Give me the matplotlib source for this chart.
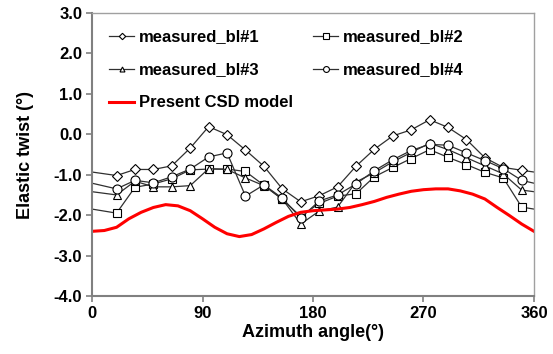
import numpy as np
import matplotlib
matplotlib.use("Agg")
import matplotlib.pyplot as plt

plt.rcParams["font.family"] = ["Liberation Sans", "DejaVu Sans"]

# Measured blade positions (deg)
angles = list(range(20, 351, 15))

bl1 = [-1.02, -0.87, -0.87, -0.78, -0.34, 0.19, -0.01, -0.39, -0.79, -1.35, -1.67, -1.52,
       -1.30, -0.79, -0.37, -0.04, 0.11, 0.36, 0.17, -0.13, -0.58, -0.82, -0.89]
bl2 = [-1.95, -1.31, -1.23, -1.10, -0.88, -0.86, -0.86, -0.92, -1.26, -1.61, -2.03, -1.71,
       -1.53, -1.47, -1.05, -0.82, -0.60, -0.38, -0.57, -0.75, -0.94, -1.08, -1.80]
bl3 = [-1.50, -1.16, -1.30, -1.30, -1.27, -0.85, -0.87, -1.08, -1.27, -1.60, -2.22, -1.90,
       -1.80, -1.18, -0.95, -0.68, -0.45, -0.22, -0.38, -0.58, -0.78, -0.98, -1.38]
bl4 = [-1.35, -1.14, -1.20, -1.05, -0.86, -0.56, -0.46, -1.53, -1.25, -1.58, -2.07, -1.65,
       -1.50, -1.23, -0.90, -0.63, -0.40, -0.25, -0.27, -0.46, -0.65, -0.85, -1.14]

# CSD model curve
model_angles = list(range(0, 361, 10))
model = [-2.40, -2.38, -2.30, -2.09, -1.93, -1.81, -1.74, -1.77, -1.89, -2.09, -2.30, -2.46,
         -2.53, -2.48, -2.34, -2.18, -2.03, -1.93, -1.89, -1.87, -1.85, -1.81, -1.74, -1.66,
         -1.56, -1.48, -1.41, -1.37, -1.35, -1.35, -1.40, -1.48, -1.60, -1.81, -2.01, -2.22, -2.40]

fig = plt.figure(figsize=(5.53, 3.54), dpi=100)
ax = fig.add_axes([0.1664, 0.1638, 0.7992, 0.7995])


def wrap(a, v):
    # periodic: continue the line past 0 and 360 degrees
    a = np.concatenate([[a[-1] - 360], a, [a[0] + 360]])
    v = np.concatenate([[v[-1]], v, [v[0]]])
    return a, v


line_kw = dict(color="#303030", linewidth=0.9, markerfacecolor="white",
               markeredgecolor="black", markeredgewidth=0.8)
h1, = ax.plot(*wrap(angles, bl1), marker="D", markersize=5, label="measured_bl#1", **line_kw)
h2, = ax.plot(*wrap(angles, bl2), marker="s", markersize=6, label="measured_bl#2", **line_kw)
h3, = ax.plot(*wrap(angles, bl3), marker="^", markersize=5.5, label="measured_bl#3", **line_kw)
h4, = ax.plot(*wrap(angles, bl4), marker="o", markersize=6.5, label="measured_bl#4", **line_kw)
h5, = ax.plot(model_angles, model, color="#ff0000", linewidth=2.2, label="Present CSD model")

ax.set_xlim(0, 360)
ax.set_ylim(-4, 3)
ax.set_xticks([0, 90, 180, 270, 360])
ax.set_yticks(np.arange(-4, 3.1, 1.0))
ax.set_yticklabels([f"{v:.1f}" for v in np.arange(-4, 3.1, 1.0)])

for s in ["top", "right"]:
    ax.spines[s].set_color("#a0a0a0")
    ax.spines[s].set_linewidth(1.0)
for s in ["left", "bottom"]:
    ax.spines[s].set_color("#808080")
    ax.spines[s].set_linewidth(1.5)
ax.tick_params(direction="out", length=4, width=1.2, color="#808080",
               labelsize=12, labelcolor="black", pad=3)
for lab in ax.get_xticklabels() + ax.get_yticklabels():
    lab.set_fontweight("bold")

ax.set_xlabel("Azimuth angle(°)", fontsize=13, fontweight="bold", labelpad=2)
ax.set_ylabel("Elastic twist (°)", fontsize=13, fontweight="bold", labelpad=14)

ax.legend(handles=[h1, h3, h5, h2, h4], ncol=2, loc="upper left",
          bbox_to_anchor=(0.005, 0.995), frameon=False, prop={"weight": "bold", "size": 12},
          handlelength=1.5, handletextpad=0.3, columnspacing=1.2, labelspacing=1.08,
          markerscale=0.65)

plt.savefig("out.png", dpi=100)
